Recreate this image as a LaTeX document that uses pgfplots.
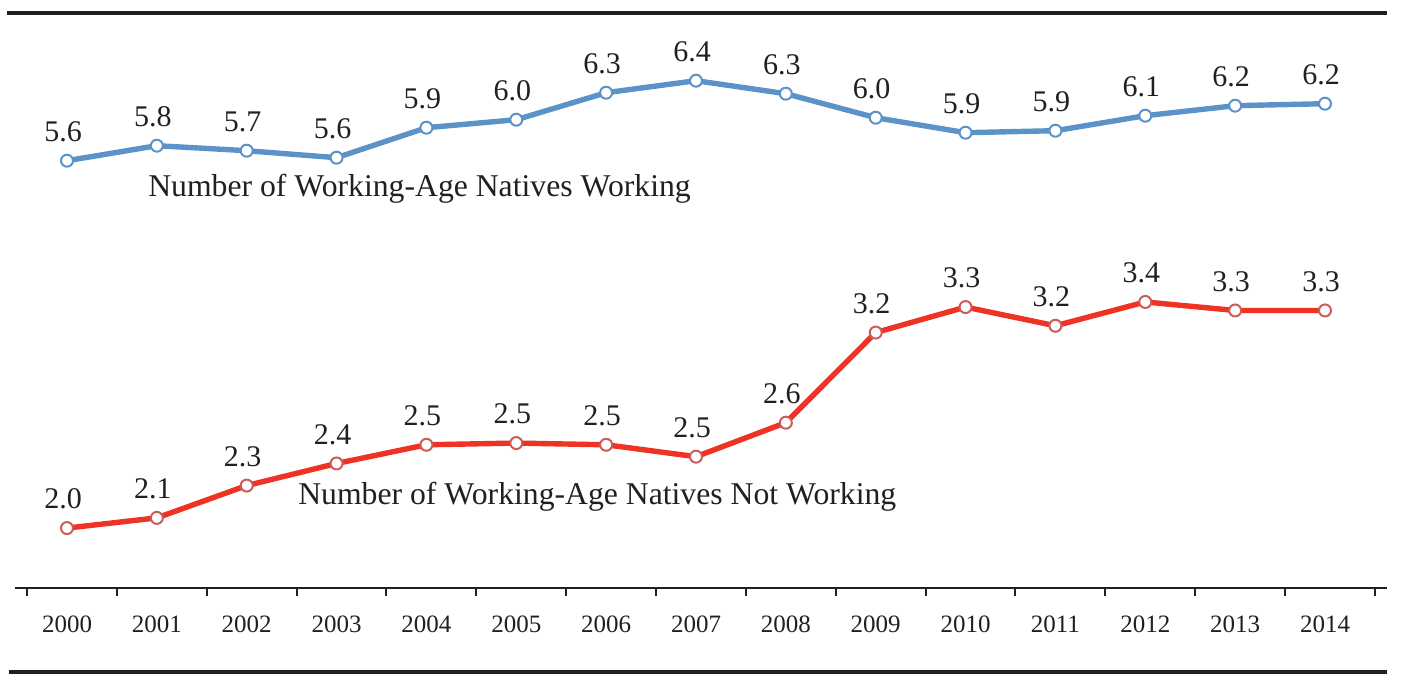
\documentclass[border=0pt]{standalone}
\usepackage{pgfplots}
\pgfplotsset{compat=1.18}
\usepackage{pgfplotstable}
\usepackage{fontspec}
\setmainfont{Liberation Serif}
\definecolor{bl}{HTML}{5B93C9}
\definecolor{rl}{HTML}{EE3224}
\definecolor{rm}{HTML}{CD5B57}
\definecolor{txt}{HTML}{231F20}

\pgfplotstableread{
x y lab
0 5.60 5.6
1 5.75 5.8
2 5.70 5.7
3 5.63 5.6
4 5.93 5.9
5 6.01 6.0
6 6.28 6.3
7 6.40 6.4
8 6.27 6.3
9 6.03 6.0
10 5.88 5.9
11 5.90 5.9
12 6.05 6.1
13 6.15 6.2
14 6.17 6.2
}\bluedata

\pgfplotstableread{
x y lab
0 2.00 2.0
1 2.06 2.1
2 2.25 2.3
3 2.38 2.4
4 2.49 2.5
5 2.50 2.5
6 2.49 2.5
7 2.42 2.5
8 2.62 2.6
9 3.15 3.2
10 3.30 3.3
11 3.19 3.2
12 3.33 3.4
13 3.28 3.3
14 3.28 3.3
}\reddata

\pgfplotsset{
  base/.style={
    width=686pt, height=287.5pt, scale only axis,
    xmin=-0.5787, xmax=14.69,
    at={(0,0)}, anchor=south west, clip=false,
    /pgf/number format/assume math mode=true,
  },
  lbl/.style={
    nodes near coords,
    point meta=explicit symbolic,
    every node near coord/.append style={anchor=base, yshift=9.6pt, xshift=-2pt, inner sep=0pt,
      font=\fontsize{15}{17}\selectfont, text=txt},
  },
}

\begin{document}
\begin{tikzpicture}
\useasboundingbox (-7.5pt,-44.5pt) rectangle (695pt,294pt);
\draw[line width=1.6pt, color=txt] (-4pt,287.5pt) -- (686pt,287.5pt);
\draw[line width=1.6pt, color=txt] (-3pt,-42pt) -- (686pt,-42pt);

% red series with x axis
\begin{axis}[base,
  ymin=1.6475, ymax=5.0297,
  axis x line*=bottom, axis y line=none,
  x axis line style={line width=1.2pt, color=txt},
  xtick={0,...,14},
  xticklabels={2000,2001,2002,2003,2004,2005,2006,2007,2008,2009,2010,2011,2012,2013,2014},
  major tick length=0pt,
  minor xtick={-0.445,0.555,1.555,2.555,3.555,4.555,5.555,6.555,7.555,8.555,9.555,10.555,11.555,12.555,13.555,14.555},
  minor tick length=4pt,
  tick align=outside,
  minor tick style={line width=1pt, color=txt},
  xticklabel style={anchor=base, yshift=-22pt, font=\fontsize{12.5}{14}\selectfont, text=txt},
]
\addplot[color=rl, line width=2.7pt, mark=*, mark size=3pt,
  mark options={fill=white, draw=rm, line width=1pt}, lbl]
  table[x=x, y=y, meta=lab] {\reddata};
\node[anchor=base west, font=\fontsize{15.85}{18}\selectfont, text=txt, inner sep=0pt] at (axis cs:2.57,2.137) {Number of Working-Age Natives Not Working};
\end{axis}

% blue series
\begin{axis}[base,
  ymin=1.327, ymax=7.077,
  hide axis,
]
\addplot[color=bl, line width=2.7pt, mark=*, mark size=3pt,
  mark options={fill=white, draw=bl, line width=1pt}, lbl]
  table[x=x, y=y, meta=lab] {\bluedata};
\node[anchor=base west, font=\fontsize{15.85}{18}\selectfont, text=txt, inner sep=0pt] at (axis cs:0.90,5.237) {Number of Working-Age Natives Working};
\end{axis}
\end{tikzpicture}
\end{document}
